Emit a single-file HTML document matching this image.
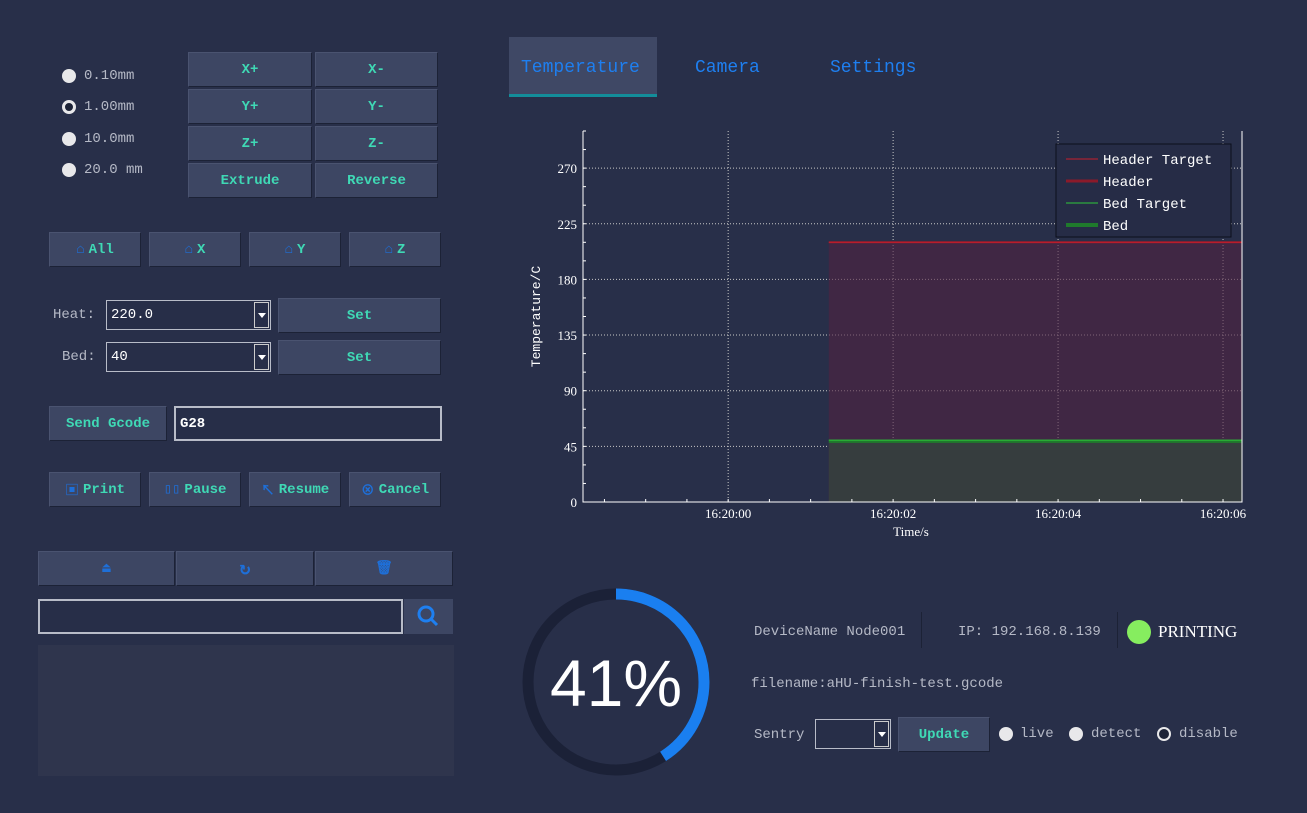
<!DOCTYPE html>
<html><head><meta charset="utf-8"><style>
body{margin:0;width:1307px;height:813px;background:#282f49;overflow:hidden;position:relative;font-family:"Liberation Mono","Noto Sans CJK SC",monospace;}
.a{position:absolute;box-sizing:border-box;}
.btn{background:#3d4663;border:1px solid #4a5370;border-right-color:#1c2236;border-bottom-color:#1c2236;color:#3fd9b5;font-weight:bold;font-size:14px;display:flex;align-items:center;justify-content:center;}
.lbl{color:#b5b9c6;font-size:14px;}
.radio{width:14px;height:14px;border-radius:50%;background:#e8e8ea;}
.inp{border:1px solid #b8bcc8;background:#272e48;color:#fff;font-size:14px;display:flex;align-items:center;padding-left:4px;}
.dd{position:absolute;right:1px;top:1px;bottom:1px;width:13px;border:1px solid #ccc;background:#272e48;}
.dd:after{content:"";position:absolute;left:3px;top:10px;border-left:4px solid transparent;border-right:4px solid transparent;border-top:5px solid #fff;}
.ic{color:#1e6fd8;margin-right:4px;}
</style></head><body>
<div>
<div class="a radio" style="left:62px;top:69px"></div><div class="a lbl" style="left:84px;top:68px">0.10mm</div>
<div class="a radio" style="left:62px;top:100px;background:#1c2236;border:3px solid #e8e8ea"></div><div class="a lbl" style="left:84px;top:99px">1.00mm</div>
<div class="a radio" style="left:62px;top:132px"></div><div class="a lbl" style="left:84px;top:131px">10.0mm</div>
<div class="a radio" style="left:62px;top:163px"></div><div class="a lbl" style="left:84px;top:162px">20.0 mm</div>
</div>
<div class="a btn" style="left:188px;top:52px;width:124px;height:35px">X+</div>
<div class="a btn" style="left:315px;top:52px;width:123px;height:35px">X-</div>
<div class="a btn" style="left:188px;top:89px;width:124px;height:35px">Y+</div>
<div class="a btn" style="left:315px;top:89px;width:123px;height:35px">Y-</div>
<div class="a btn" style="left:188px;top:126px;width:124px;height:35px">Z+</div>
<div class="a btn" style="left:315px;top:126px;width:123px;height:35px">Z-</div>
<div class="a btn" style="left:188px;top:163px;width:124px;height:35px">Extrude</div>
<div class="a btn" style="left:315px;top:163px;width:123px;height:35px">Reverse</div>

<div class="a btn" style="left:49px;top:232px;width:92px;height:35px"><span class="ic">⌂</span>All</div>
<div class="a btn" style="left:149px;top:232px;width:92px;height:35px"><span class="ic">⌂</span>X</div>
<div class="a btn" style="left:249px;top:232px;width:92px;height:35px"><span class="ic">⌂</span>Y</div>
<div class="a btn" style="left:349px;top:232px;width:92px;height:35px"><span class="ic">⌂</span>Z</div>

<div class="a lbl" style="left:53px;top:307px">Heat:</div>
<div class="a inp" style="left:106px;top:300px;width:165px;height:30px">220.0<div class="dd"></div></div>
<div class="a btn" style="left:278px;top:298px;width:163px;height:35px">Set</div>
<div class="a lbl" style="left:62px;top:349px">Bed:</div>
<div class="a inp" style="left:106px;top:342px;width:165px;height:30px">40<div class="dd"></div></div>
<div class="a btn" style="left:278px;top:340px;width:163px;height:35px">Set</div>

<div class="a btn" style="left:49px;top:406px;width:118px;height:35px">Send Gcode</div>
<div class="a inp" style="left:174px;top:406px;width:268px;height:35px;border-width:2px;font-weight:bold">G28</div>

<div class="a btn" style="left:49px;top:472px;width:92px;height:35px"><span class="ic">▣</span>Print</div>
<div class="a btn" style="left:149px;top:472px;width:92px;height:35px"><span class="ic">▯▯</span>Pause</div>
<div class="a btn" style="left:249px;top:472px;width:92px;height:35px"><span class="ic">↖</span>Resume</div>
<div class="a btn" style="left:349px;top:472px;width:92px;height:35px"><span class="ic">⊗</span>Cancel</div>

<div class="a btn" style="left:38px;top:551px;width:137px;height:35px;color:#1e6fd8">⏏</div>
<div class="a btn" style="left:176px;top:551px;width:138px;height:35px;color:#1e6fd8;font-size:18px">↻</div>
<div class="a btn" style="left:315px;top:551px;width:138px;height:35px;color:#1e6fd8">🗑</div>
<div class="a inp" style="left:38px;top:599px;width:365px;height:35px;border-width:2px"></div>
<div class="a" style="left:404px;top:599px;width:49px;height:35px;background:#3d4663"><svg width="49" height="35"><circle cx="22" cy="15" r="7" stroke="#1e7ff0" stroke-width="3" fill="none"/><line x1="27" y1="20" x2="33" y2="26" stroke="#1e7ff0" stroke-width="3"/></svg></div>
<div class="a" style="left:38px;top:645px;width:416px;height:131px;background:#2f354d"></div>

<div class="a" style="left:509px;top:37px;width:148px;height:60px;background:#3f4865;border-bottom:3px solid #138d9a"></div>
<div class="a" style="left:521px;top:58px;color:#1e7ff0;font-size:18px">Temperature</div>
<div class="a" style="left:695px;top:58px;color:#1e7ff0;font-size:18px">Camera</div>
<div class="a" style="left:830px;top:58px;color:#1e7ff0;font-size:18px">Settings</div>

<svg class="a" style="left:0;top:0" width="1307" height="813" id="chart"></svg>

<svg class="a" style="left:516px;top:582px" width="200" height="200">
<circle cx="100" cy="100" r="88" stroke="#1b2137" stroke-width="11" fill="none"/>
<circle cx="100" cy="100" r="88" stroke="#1a7ff0" stroke-width="11" fill="none" stroke-dasharray="226.7 1000" transform="rotate(-90 100 100)"/>
<text x="100" y="124" text-anchor="middle" fill="#fff" font-size="66" font-family="Liberation Sans, sans-serif">41%</text>
</svg>
<div class="a lbl" style="left:754px;top:624px;font-size:14px">DeviceName Node001</div>
<div class="a" style="left:921px;top:612px;width:1px;height:36px;background:#1c2236"></div>
<div class="a lbl" style="left:958px;top:624px;font-size:14px">IP: 192.168.8.139</div>
<div class="a" style="left:1117px;top:612px;width:1px;height:36px;background:#1c2236"></div>
<div class="a" style="left:1127px;top:620px;width:24px;height:24px;border-radius:50%;background:#86ed5f"></div>
<div class="a" style="left:1158px;top:622px;color:#fff;font-size:17px;font-family:'Liberation Serif',serif">PRINTING</div>
<div class="a lbl" style="left:751px;top:676px">filename:aHU-finish-test.gcode</div>
<div class="a lbl" style="left:754px;top:727px">Sentry</div>
<div class="a inp" style="left:815px;top:719px;width:76px;height:30px"><div class="dd"></div></div>
<div class="a btn" style="left:898px;top:717px;width:92px;height:35px">Update</div>
<div class="a radio" style="left:999px;top:727px"></div><div class="a lbl" style="left:1020px;top:726px">live</div>
<div class="a radio" style="left:1069px;top:727px"></div><div class="a lbl" style="left:1091px;top:726px">detect</div>
<div class="a radio" style="left:1157px;top:727px;background:#1c2236;border:2px solid #e8e8ea"></div><div class="a lbl" style="left:1179px;top:726px">disable</div>

<script>
const yTicks=[0,45,90,135,180,225,270];
const xTickSec=[0,2,4,6];
const xTickLabels=["16:20:00","16:20:02","16:20:04","16:20:06"];
const seriesNames=["Header Target","Header","Bed Target","Bed"];
const timesSec=[1.22,6.23];
const headerTarget=[210,210];
const header=[210,210];
const bedTarget=[50,50];
const bed=[49,49];
const L=583,R=1242,T=131,B=502,yMax=300,xMin=-1.76,xMax=6.23;
const sx=v=>L+(v-xMin)/(xMax-xMin)*(R-L);
const sy=v=>B-v/yMax*(B-T);
const svg=document.getElementById('chart');const NS='http://www.w3.org/2000/svg';
function mk(tag,at){const e=document.createElementNS(NS,tag);for(const k in at)e.setAttribute(k,at[k]);svg.appendChild(e);return e;}
yTicks.forEach(v=>{if(v>0){const g=mk('line',{x1:L,x2:R,y1:sy(v),y2:sy(v),stroke:'#c8c8c8','stroke-dasharray':'1,2','stroke-width':1});}
const t=mk('text',{x:L-6,y:sy(v)+5,'text-anchor':'end',fill:'#fff','font-size':13,'font-family':'Liberation Serif, serif'});t.textContent=v;});
xTickSec.forEach((v,i)=>{const g=mk('line',{x1:sx(v),x2:sx(v),y1:T,y2:B,stroke:'#c8c8c8','stroke-dasharray':'1,2'});
const t=mk('text',{x:sx(v),y:B+16,'text-anchor':'middle',fill:'#fff','font-size':13,'font-family':'Liberation Serif, serif'});t.textContent=xTickLabels[i];});
function area(vals,fill,stroke,name,sw){const x0=sx(timesSec[0]),x1=sx(timesSec[timesSec.length-1]);
if(fill){let d=`M${x0},${sy(0)}`;timesSec.forEach((t,i)=>d+=`L${sx(t)},${sy(vals[i])}`);d+=`L${x1},${sy(0)}Z`;const p=mk('path',{d,fill});}
let d='';timesSec.forEach((t,i)=>d+=(i?'L':'M')+sx(t)+','+sy(vals[i]));const l=mk('path',{d,stroke,'stroke-width':sw,fill:'none'});}
area(header,'rgba(80,35,65,0.6)','#8b1a2a','header',2);
area(headerTarget,null,'#c81e2c','header-target',1);
area(bed,'#363d3e','#1f7a2c','bed',3);
area(bedTarget,null,'#2ec83a','bed-target',1);
const ax=mk('path',{d:`M${L},${T}V${B}H${R}V${T}`,stroke:'#fff','stroke-width':1,fill:'none'});
for(let v=0;v<=yMax;v+=15){mk('line',{x1:L,x2:L+3,y1:sy(v),y2:sy(v),stroke:'#fff'});}
for(let s=-1.5;s<=6;s+=0.5){mk('line',{x1:sx(s),x2:sx(s),y1:B,y2:B-3,stroke:'#fff'});}
const yt=mk('text',{x:0,y:0,transform:`translate(540,${(T+B)/2}) rotate(-90)`,'text-anchor':'middle',fill:'#fff','font-size':13});yt.textContent='Temperature/C';
const xt=mk('text',{x:911,y:536,'text-anchor':'middle',fill:'#fff','font-size':13,'font-family':'Liberation Serif, serif'});xt.textContent='Time/s';
const lg=mk('rect',{x:1056,y:144,width:175,height:93,fill:'#262c46',stroke:'#0c0f1c'});
const lc=['#c81e2c','#8b1a2a','#2ec83a','#1f7a2c'];const lw=[1,3,1,4];
seriesNames.forEach((n,i)=>{const y=159+i*22;mk('line',{x1:1066,x2:1098,y1:y,y2:y,stroke:lc[i],'stroke-width':lw[i]});
const t=mk('text',{x:1103,y:y+5,fill:'#fff','font-size':14});t.textContent=n;});
</script>
</body></html>
